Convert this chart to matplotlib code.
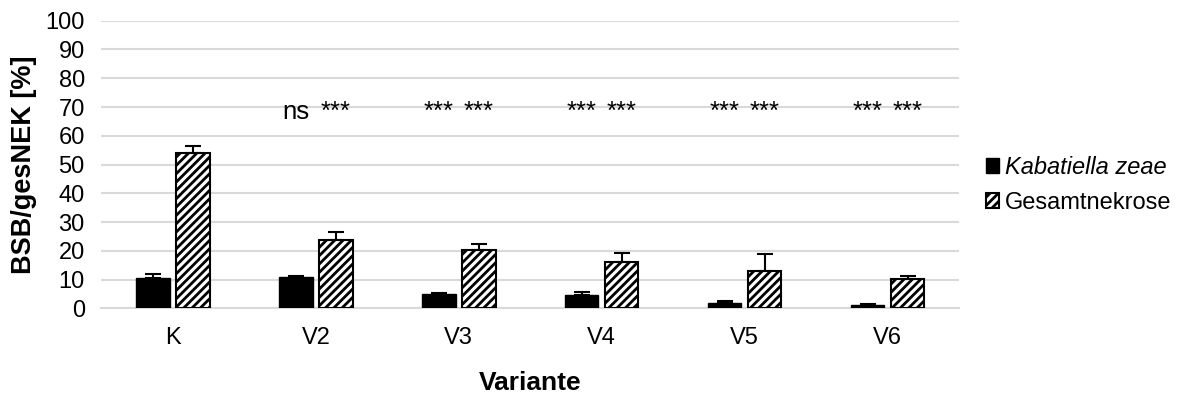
import matplotlib
matplotlib.use("Agg")
import matplotlib.pyplot as plt
import numpy as np

plt.rcParams['font.family'] = ['Liberation Sans', 'DejaVu Sans']
plt.rcParams['hatch.linewidth'] = 2.0

categories = ["K", "V2", "V3", "V4", "V5", "V6"]
kab = [10.7, 10.9, 5.0, 4.7, 2.0, 1.3]
kab_err = [1.4, 0.3, 0.5, 1.1, 0.5, 0.2]
ges = [54.2, 23.9, 20.5, 16.1, 12.9, 10.2]
ges_err = [2.2, 2.8, 1.9, 3.2, 5.9, 1.2]
sig_kab = ["", "ns", "***", "***", "***", "***"]
sig_ges = ["", "***", "***", "***", "***", "***"]
sig_y = 66

fig = plt.figure(figsize=(11.84, 4.11), dpi=100)
ax = fig.add_axes([0.0857, 0.2494, 0.7243, 0.7002])

x = np.arange(len(categories))
w = 0.234
off = 0.14
ax.bar(x - off, kab, w, color='black', edgecolor='black', linewidth=1,
       label='Kabatiella zeae', zorder=3)
ax.bar(x + off, ges, w, color='white', edgecolor='black', linewidth=1.5,
       hatch='////', label='Gesamtnekrose', zorder=3)
ax.errorbar(x - off, kab, yerr=[np.zeros(len(kab)), kab_err], fmt='none',
            ecolor='black', elinewidth=1.5, capsize=6, capthick=1.5, zorder=4)
ax.errorbar(x + off, ges, yerr=[np.zeros(len(ges)), ges_err], fmt='none',
            ecolor='black', elinewidth=1.5, capsize=6, capthick=1.5, zorder=4)

for i in range(len(categories)):
    if sig_kab[i]:
        ax.text(x[i] - off, sig_y, sig_kab[i], ha='center', va='baseline', fontsize=18.5)
    if sig_ges[i]:
        ax.text(x[i] + off, sig_y, sig_ges[i], ha='center', va='baseline', fontsize=18.5)

ax.set_xlim(-0.5, len(categories) - 0.5)
ax.set_ylim(0, 100)
ax.set_yticks(np.arange(0, 101, 10))
ax.set_xticks(x)
ax.set_xticklabels(categories)
ax.tick_params(axis='both', length=0, labelsize=17, colors='black')
ax.tick_params(axis='x', pad=13)
ax.tick_params(axis='y', pad=12)
ax.grid(axis='y', color='#d9d9d9', linewidth=1.5, zorder=0)
for s in ['top', 'right', 'left']:
    ax.spines[s].set_visible(False)
ax.spines['bottom'].set_color('#d9d9d9')
ax.spines['bottom'].set_linewidth(1.5)

ax.set_ylabel('BSB/gesNEK [%]', fontsize=19.5, fontweight='bold', labelpad=6)
ax.set_xlabel('Variante', fontsize=19, fontweight='bold', labelpad=16)

leg = fig.legend(loc='center left', bbox_to_anchor=(0.815, 0.55), frameon=False,
                 fontsize=17, handlelength=0.55, handleheight=0.55,
                 handletextpad=0.25, labelspacing=0.55)
leg.get_texts()[0].set_style('italic')

fig.savefig('out.png', dpi=100)
